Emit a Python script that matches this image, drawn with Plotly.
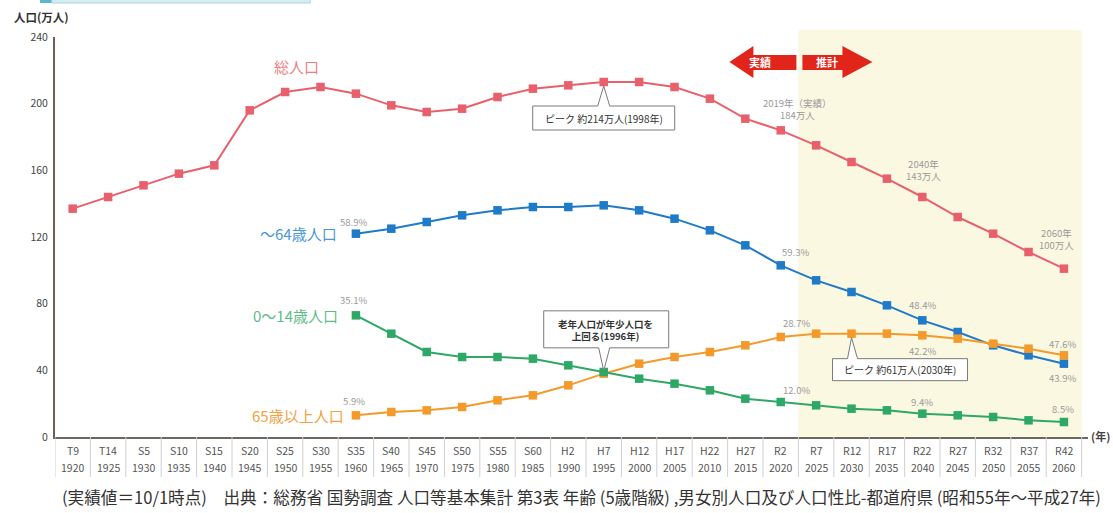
import plotly.graph_objects as go

# ---------------- data ----------------
years = [1920, 1925, 1930, 1935, 1940, 1945, 1950, 1955, 1960, 1965, 1970, 1975, 1980, 1985,
         1990, 1995, 2000, 2005, 2010, 2015, 2020, 2025, 2030, 2035, 2040, 2045, 2050, 2055, 2060]
eras = ["T9", "T14", "S5", "S10", "S15", "S20", "S25", "S30", "S35", "S40", "S45", "S50", "S55", "S60",
        "H2", "H7", "H12", "H17", "H22", "H27", "R2", "R7", "R12", "R17", "R22", "R27", "R32", "R37", "R42"]

total = [137, 144, 151, 158, 163, 196, 207, 210, 206, 199, 195, 197, 204, 209,
         211, 213, 213, 210, 203, 191, 184, 175, 165, 155, 144, 132, 122, 111, 101]
age15_64 = [None] * 8 + [122, 125, 129, 133, 136, 138, 138, 139, 136, 131, 124, 115,
                         103, 94, 87, 79, 70, 63, 55, 49, 44]
age0_14 = [None] * 8 + [73, 62, 51, 48, 48, 47, 43, 39, 35, 32, 28, 23,
                        21, 19, 17, 16, 14, 13, 12, 10, 9]
age65 = [None] * 8 + [13, 15, 16, 18, 22, 25, 31, 38, 44, 48, 51, 55,
                      60, 62, 62, 62, 61, 59, 56, 53, 49]

ytick_vals = [0, 40, 80, 120, 160, 200, 240]

FONT = "Noto Sans CJK JP"
C_TOTAL = "#e8606b"
C_WORK = "#1f7ac8"
C_CHILD = "#2ea866"
C_OLD = "#f39a2b"
GREY = "#9a9a9a"

x = list(range(len(years)))

fig = go.Figure()


def add_series(vals, color, name):
    fig.add_trace(go.Scatter(
        x=x, y=vals, mode="lines+markers", name=name,
        line=dict(color=color, width=2),
        marker=dict(symbol="square", size=8.5, color=color),
        connectgaps=False, showlegend=False, hoverinfo="x+y"))


add_series(total, C_TOTAL, "総人口")
add_series(age15_64, C_WORK, "～64歳人口")
add_series(age65, C_OLD, "65歳以上人口")
add_series(age0_14, C_CHILD, "0～14歳人口")

shapes = []
annotations = []

# projection shading (R7 onward)
shapes.append(dict(type="rect", xref="x", yref="paper", x0=20.5, x1=28.5, y0=0, y1=1.018,
                   fillcolor="#fbf8e2", line=dict(width=0), layer="below"))

# x-axis label table: separators and two rows of labels
for k in range(-1, len(years)):
    shapes.append(dict(type="line", xref="x", yref="paper", x0=k + 0.5, x1=k + 0.5,
                       y0=0, y1=-0.1, line=dict(color="#d0d0d0", width=1)))
for xi, (e, y) in enumerate(zip(eras, years)):
    annotations.append(dict(xref="x", yref="paper", x=xi, y=0, yshift=-13, yanchor="middle",
                            text=e, showarrow=False,
                            font=dict(family=FONT, size=10.5, color="#555555")))
    annotations.append(dict(xref="x", yref="paper", x=xi, y=0, yshift=-30, yanchor="middle",
                            text=str(y), showarrow=False,
                            font=dict(family=FONT, size=10.5, color="#555555")))

# header bar (top-left decoration)
shapes.append(dict(type="rect", xref="paper", yref="paper", x0=-0.0145, x1=-0.003,
                   y0=1.085, y1=1.095, fillcolor="#5db6c9", line=dict(width=0)))
shapes.append(dict(type="rect", xref="paper", yref="paper", x0=-0.003, x1=0.247,
                   y0=1.085, y1=1.095, fillcolor="#d5ecf2", line=dict(color="#a8d6e2", width=1)))

# 実績 / 推計 arrows
ARROW_RED = "#e1251b"
shapes.append(dict(type="path", xref="x", yref="paper", xsizemode="pixel", ysizemode="pixel",
                   xanchor=20.5, yanchor=1,
                   path="M -69,-25 L -45,-9 L -45,-18 L -2,-18 L -2,-33 L -45,-33 L -45,-41 Z",
                   fillcolor=ARROW_RED, line=dict(width=0)))
shapes.append(dict(type="path", xref="x", yref="paper", xsizemode="pixel", ysizemode="pixel",
                   xanchor=20.5, yanchor=1,
                   path="M 4,-18 L 44,-18 L 44,-9 L 74,-25 L 44,-41 L 44,-33 L 4,-33 Z",
                   fillcolor=ARROW_RED, line=dict(width=0)))
annotations.append(dict(xref="x", yref="paper", x=20.5, y=1, xshift=-38, yshift=-25,
                        yanchor="middle", text="<b>実績</b>", showarrow=False,
                        font=dict(family=FONT, size=11, color="white")))
annotations.append(dict(xref="x", yref="paper", x=20.5, y=1, xshift=29, yshift=-25,
                        yanchor="middle", text="<b>推計</b>", showarrow=False,
                        font=dict(family=FONT, size=11, color="white")))


def callout(xi, yv, path, text, tx, ty, bold=False, size=10):
    shapes.append(dict(type="path", xref="x", yref="y", xsizemode="pixel", ysizemode="pixel",
                       xanchor=xi, yanchor=yv, path=path, fillcolor="white",
                       line=dict(color="#7a7a7a", width=1), layer="above"))
    annotations.append(dict(xref="x", yref="y", x=xi, y=yv, xshift=tx, yshift=ty,
                            yanchor="middle",
                            text=f"<b>{text}</b>" if bold else text, showarrow=False,
                            font=dict(family=FONT, size=size, color="#333333")))


i_h7 = years.index(1995)
i_r12 = years.index(2030)
callout(i_h7, total[i_h7],
        "M -6,-24 L 0,-4 L 6,-24 L 71,-24 L 71,-48 L -71,-48 L -71,-24 Z",
        "ピーク 約214万人(1998年)", 0, -36)
callout(i_h7, (age0_14[i_h7] + age65[i_h7]) / 2,
        "M -5,25 L 0,2 L 6,25 L 65,25 L 65,62 L -60,62 L -60,25 Z",
        "老年人口が年少人口を<br>上回る(1996年)", 2, 43, bold=True, size=9.5)
callout(i_r12, age65[i_r12],
        "M -4,-25 L 0,-4 L 6,-25 L 116,-25 L 116,-47 L -19,-47 L -19,-25 Z",
        "ピーク 約61万人(2030年)", 48, -36)

# series name labels
i_s35 = years.index(1960)
annotations.append(dict(xref="x", yref="y", x=i_s35, y=total[i_s35], xshift=-59, yshift=27,
                        yanchor="middle", text="総人口", showarrow=False,
                        font=dict(family=FONT, size=15, color="#ee7f86")))
for vals, label, col, dx in [(age15_64, "～64歳人口", "#4a98d8", -17),
                             (age0_14, "0～14歳人口", "#5fbd87", -16),
                             (age65, "65歳以上人口", "#f4a23f", -10)]:
    annotations.append(dict(xref="x", yref="y", x=i_s35, y=vals[i_s35], xshift=dx, yshift=0,
                            xanchor="right", yanchor="middle", text=label, showarrow=False,
                            font=dict(family=FONT, size=15, color=col)))

# percentage labels
i_r2 = years.index(2020)
i_r22 = years.index(2040)
i_r42 = years.index(2060)
pct = [
    (i_s35, age15_64, "58.9%", -2, 12),
    (i_s35, age0_14, "35.1%", -2, 15),
    (i_s35, age65, "5.9%", -2, 14),
    (i_r2, age15_64, "59.3%", 15, 13),
    (i_r2, age65, "28.7%", 16, 14),
    (i_r2, age0_14, "12.0%", 16, 12),
    (i_r22, age15_64, "48.4%", 0, 15),
    (i_r22, age65, "42.2%", 0, -16),
    (i_r22, age0_14, "9.4%", 0, 12),
    (i_r42, age65, "47.6%", -1, 11),
    (i_r42, age15_64, "43.9%", -1, -14),
    (i_r42, age0_14, "8.5%", -1, 13),
]
for xi, vals, t, dx, dy in pct:
    annotations.append(dict(xref="x", yref="y", x=xi, y=vals[xi], xshift=dx, yshift=dy,
                            yanchor="middle", text=t, showarrow=False,
                            font=dict(family=FONT, size=9.5, color=GREY)))

# total population notes
for xi, t, dx, dy in [(i_r2, "2019年（実績）<br>184万人", 17, 21),
                      (i_r22, "2040年<br>143万人", 1, 27),
                      (i_r42, "2060年<br>100万人", -7, 30)]:
    annotations.append(dict(xref="x", yref="y", x=xi, y=total[xi], xshift=dx, yshift=dy,
                            yanchor="middle", text=t, showarrow=False,
                            font=dict(family=FONT, size=9.5, color=GREY)))

# axis titles
annotations.append(dict(xref="paper", yref="paper", x=0, y=1, xshift=-43, yshift=20,
                        xanchor="left", yanchor="middle", text="<b>人口(万人)</b>", showarrow=False,
                        font=dict(family=FONT, size=11.5, color="#333333")))
annotations.append(dict(xref="paper", yref="paper", x=1, y=0, xshift=1, yshift=1,
                        xanchor="left", yanchor="middle", text="<b>(年)</b>", showarrow=False,
                        font=dict(family=FONT, size=11, color="#444444")))

# source note
annotations.append(dict(xref="paper", yref="paper", x=0, y=0, xshift=5, yshift=-60,
                        xanchor="left", yanchor="middle",
                        text="(実績値＝10/1時点)　出典：総務省 国勢調査 人口等基本集計 第3表 年齢 (5歳階級) ,"
                             "男女別人口及び人口性比-都道府県 (昭和55年～平成27年)",
                        showarrow=False, font=dict(family=FONT, size=16.6, color="#333333")))

fig.update_layout(
    width=1113, height=513,
    margin=dict(l=55, r=25, t=37, b=76),
    paper_bgcolor="white", plot_bgcolor="white",
    font=dict(family=FONT, color="#444444"),
    shapes=shapes, annotations=annotations,
    xaxis=dict(range=[-0.5, 28.68], tickmode="array", tickvals=x, showticklabels=False,
               showgrid=False, zeroline=False, showline=True, linecolor="#6e6660", linewidth=1.5,
               ticks="", fixedrange=True),
    yaxis=dict(range=[0, 240], tickmode="array", tickvals=ytick_vals, ticklabelstandoff=3,
               showgrid=False, zeroline=False, showline=True, linecolor="#6e5e55", linewidth=2,
               ticks="", tickfont=dict(family=FONT, size=10.5, color="#444444"), fixedrange=True),
    hovermode="closest",
)

fig.write_html("out.html", config={"displayModeBar": False},
               post_script="document.body.style.margin='0';")
